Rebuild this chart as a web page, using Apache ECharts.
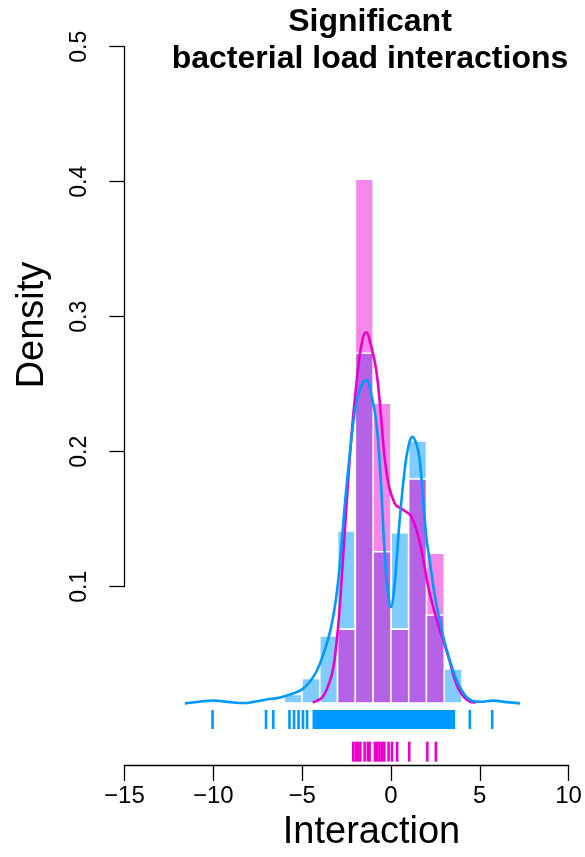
<!DOCTYPE html>
<html>
<head>
<meta charset="utf-8">
<script src="https://cdn.jsdelivr.net/npm/echarts@6/dist/echarts.min.js"></script>
<style>
  html, body { margin: 0; padding: 0; background: #ffffff; }
  #chart { width: 585px; height: 857px; }
</style>
</head>
<body>
<div id="chart"></div>
<script>
// Histogram bins (width 1) shared by both groups
const binStarts = [-6, -5, -4, -3, -2, -1, 0, 1, 2, 3];
const blueDensity = [0.0201, 0.032, 0.0635, 0.1413, 0.273, 0.1259, 0.14, 0.2079, 0.079, 0.039];
const pinkDensity = [null, null, null, 0.0684, 0.4018, 0.2359, 0.0684, 0.1798, 0.1247, null];

// Kernel density curves: x positions and density values
const blueCurveX = [-11.6, -10.8, -10.0, -9.2, -8.3, -7.6, -7.0, -6.3, -5.5, -5.0, -4.6, -4.2, -3.8, -3.4, -3.1, -2.85, -2.6, -2.3, -2.05, -1.75, -1.38, -1.1, -0.82, -0.6, -0.35, -0.18, 0.0, 0.17, 0.32, 0.49, 0.77, 1.0, 1.21, 1.45, 1.62, 1.99, 2.18, 2.45, 2.74, 3.0, 3.31, 3.6, 3.87, 4.34, 5.0, 5.76, 6.5, 7.26];
const blueCurveY = [0.0136, 0.0148, 0.0157, 0.0147, 0.0138, 0.015, 0.0165, 0.0178, 0.021, 0.024, 0.029, 0.037, 0.05, 0.068, 0.09, 0.12, 0.16, 0.2, 0.228, 0.246, 0.253, 0.242, 0.222, 0.185, 0.125, 0.097, 0.085, 0.097, 0.12, 0.149, 0.186, 0.205, 0.211, 0.205, 0.194, 0.137, 0.12, 0.095, 0.075, 0.06, 0.0457, 0.034, 0.026, 0.0173, 0.0148, 0.0156, 0.0145, 0.0136];
const pinkCurveX = [-4.4, -4.1, -3.83, -3.55, -3.27, -3.05, -2.89, -2.7, -2.45, -2.2, -1.86, -1.6, -1.39, -1.15, -0.82, -0.54, -0.26, 0.21, 0.68, 1.15, 1.62, 1.85, 2.1, 2.4, 2.75, 3.0, 3.3, 3.6, 3.9, 4.3, 4.75];
const pinkCurveY = [0.0141, 0.016, 0.0185, 0.026, 0.038, 0.06, 0.083, 0.12, 0.17, 0.215, 0.26, 0.283, 0.2885, 0.28, 0.26, 0.2235, 0.186, 0.1618, 0.157, 0.152, 0.133, 0.118, 0.1, 0.084, 0.068, 0.058, 0.045, 0.031, 0.022, 0.016, 0.014];

// Rug positions of the individual interactions
const blueRug = [-10.04, -7.03, -6.62, -5.71, -5.45, -5.2, -4.95, -4.72,
  -4.34, -4.25, -4.16, -4.07, -3.98, -3.9, -3.82, -3.73, -3.64, -3.55, -3.47, -3.38, -3.3, -3.21, -3.12, -3.03,
  -2.95, -2.86, -2.78, -2.69, -2.6, -2.51, -2.43, -2.34, -2.26, -2.17, -2.08, -1.99, -1.91, -1.82, -1.74, -1.65,
  -1.56, -1.47, -1.39, -1.3, -1.22, -1.13, -1.04, -0.95, -0.87, -0.78, -0.7, -0.61, -0.52, -0.43, -0.35, -0.26,
  -0.18, -0.09, 0, 0.09, 0.17, 0.26, 0.34, 0.43, 0.52, 0.61, 0.69, 0.78, 0.86, 0.95, 1.04, 1.13, 1.21, 1.3,
  1.38, 1.47, 1.56, 1.65, 1.73, 1.82, 1.9, 1.99, 2.08, 2.17, 2.25, 2.34, 2.42, 2.51, 2.6, 2.69, 2.77, 2.86,
  2.94, 3.03, 3.12, 3.21, 3.29, 3.38, 3.46, 3.54,
  4.44, 5.7];
const pinkRug = [-2.12, -1.98, -1.84, -1.72, -1.48, -1.3, -1.2, -0.9, -0.77, -0.64, -0.5, -0.37, -0.13, 0.06, 0.35, 1.03, 2.05, 2.53];

// Axis ticks
const xTicks = [-15, -10, -5, 0, 5, 10];
const yTicks = [0.1, 0.2, 0.3, 0.4, 0.5];

// Layout / style constants
const histBase = 0.0139;          // level the bars and curves rise from
const blueRugSpan = [0.0087, -0.0054];
const pinkRugSpan = [-0.0148, -0.0296];
const FONT = 'Liberation Sans';
const C = {
  blueFill: '#80CBFF', pinkFill: '#F487E8', mixFill: '#B562E6',
  blueLine: '#0099FF', pinkLine: '#EE00CC'
};

function bars(values) {
  const out = [];
  binStarts.forEach((b, i) => { if (values[i] != null) out.push([b, b + 1, values[i]]); });
  return out;
}
const overlap = [];
binStarts.forEach((b, i) => {
  if (blueDensity[i] != null && pinkDensity[i] != null) overlap.push([b, b + 1, Math.min(blueDensity[i], pinkDensity[i])]);
});

function barRenderer(fill) {
  return function (params, api) {
    const p0 = api.coord([api.value(0), histBase]);
    const p1 = api.coord([api.value(1), api.value(2)]);
    return {
      type: 'rect',
      shape: { x: p0[0], y: p1[1], width: p1[0] - p0[0], height: p0[1] - p1[1] },
      style: { fill: fill, stroke: '#ffffff', lineWidth: 1.5 }
    };
  };
}
function rugRenderer(color, span) {
  return function (params, api) {
    const a = api.coord([api.value(0), span[0]]);
    const b = api.coord([api.value(0), span[1]]);
    return {
      type: 'line',
      shape: { x1: a[0], y1: a[1], x2: b[0], y2: b[1] },
      style: { stroke: color, lineWidth: 2.6 }
    };
  };
}
const zip = (xs, ys) => xs.map((x, i) => [x, ys[i]]);

const gridTop = 46.7, gridBottomPx = 586.7, axisLinePx = 765;

const chart = echarts.init(document.getElementById('chart'), null, { renderer: 'canvas' });
chart.setOption({
  animation: false,
  backgroundColor: '#ffffff',
  grid: { left: 124.4, right: 16.4, top: gridTop, bottom: 857 - gridBottomPx },
  xAxis: {
    type: 'value', min: xTicks[0], max: xTicks[xTicks.length - 1], interval: 5,
    offset: axisLinePx - gridBottomPx,
    axisLine: { show: true, onZero: false, lineStyle: { color: '#000', width: 1.3 } },
    axisTick: { show: true, length: 16, lineStyle: { color: '#000', width: 1.3 } },
    axisLabel: { fontFamily: FONT, fontSize: 24, color: '#000', margin: 19,
      formatter: v => (v < 0 ? '\u2212' + Math.abs(v) : String(v)) },
    splitLine: { show: false }
  },
  yAxis: {
    type: 'value', min: yTicks[0], max: yTicks[yTicks.length - 1], interval: 0.1,
    axisLine: { show: true, onZero: false, lineStyle: { color: '#000', width: 1.3 } },
    axisTick: { show: true, length: 15, lineStyle: { color: '#000', width: 1.3 } },
    axisLabel: { fontFamily: FONT, fontSize: 23, color: '#000', rotate: 90, margin: 33,
      formatter: v => v.toFixed(1) },
    splitLine: { show: false }
  },
  graphic: [
    { type: 'text', x: 370, y: 22, style: { text: 'Significant', fontFamily: FONT, fontWeight: 'bold', fontSize: 32, fill: '#000', textAlign: 'center', textVerticalAlign: 'middle' } },
    { type: 'text', x: 370, y: 59, style: { text: 'bacterial load interactions', fontFamily: FONT, fontWeight: 'bold', fontSize: 32, fill: '#000', textAlign: 'center', textVerticalAlign: 'middle' } },
    { type: 'text', x: 371.5, y: 833, style: { text: 'Interaction', fontFamily: FONT, fontSize: 38, fill: '#000', textAlign: 'center', textVerticalAlign: 'middle' } },
    { type: 'text', x: 33, y: 325, rotation: Math.PI / 2, style: { text: 'Density', fontFamily: FONT, fontSize: 38, fill: '#000', textAlign: 'center', textVerticalAlign: 'middle' } }
  ],
  series: [
    { type: 'custom', name: 'blue bars', clip: false, z: 2, renderItem: barRenderer(C.blueFill), data: bars(blueDensity) },
    { type: 'custom', name: 'pink bars', clip: false, z: 3, renderItem: barRenderer(C.pinkFill), data: bars(pinkDensity) },
    { type: 'custom', name: 'overlap', clip: false, z: 4, renderItem: barRenderer(C.mixFill), data: overlap },
    { type: 'line', name: 'pink density', clip: false, z: 5, showSymbol: false, smooth: 0.45,
      lineStyle: { color: C.pinkLine, width: 2.6 }, data: zip(pinkCurveX, pinkCurveY) },
    { type: 'line', name: 'blue density', clip: false, z: 6, showSymbol: false, smooth: 0.45,
      lineStyle: { color: C.blueLine, width: 2.6 }, data: zip(blueCurveX, blueCurveY) },
    { type: 'custom', name: 'blue rug', clip: false, z: 5, renderItem: rugRenderer(C.blueLine, blueRugSpan), data: blueRug.map(v => [v]) },
    { type: 'custom', name: 'pink rug', clip: false, z: 5, renderItem: rugRenderer(C.pinkLine, pinkRugSpan), data: pinkRug.map(v => [v]) }
  ]
});
</script>
</body>
</html>
